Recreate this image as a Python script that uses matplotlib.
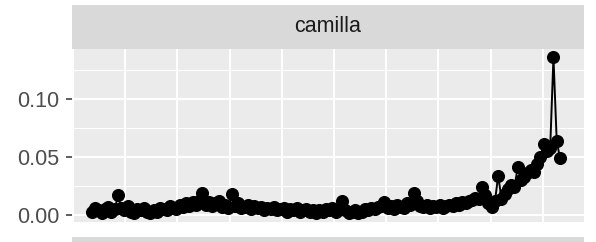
import numpy as np
import matplotlib
matplotlib.use('Agg')
import matplotlib.pyplot as plt

plt.rcParams['font.family'] = ['Liberation Sans', 'DejaVu Sans']

facet = 'camilla'

# one value per week
values = [
    0.003, 0.006, 0.004, 0.002, 0.005, 0.007, 0.003, 0.005, 0.017,
    0.006, 0.004, 0.008, 0.003, 0.002, 0.005, 0.004, 0.006, 0.003,
    0.002, 0.004, 0.003, 0.006, 0.005, 0.004, 0.008, 0.006, 0.005, 0.009,
    0.007, 0.010, 0.008, 0.011, 0.009, 0.012,
    0.019,
    0.009, 0.011, 0.008, 0.010, 0.012, 0.007, 0.009, 0.006,
    0.018,
    0.008, 0.010, 0.006, 0.007, 0.009, 0.005, 0.008, 0.006, 0.007, 0.004,
    0.006, 0.005, 0.007, 0.004, 0.005, 0.006, 0.003, 0.005, 0.004, 0.006,
    0.003, 0.004, 0.005, 0.003, 0.004, 0.002, 0.004, 0.003,
    0.005, 0.004, 0.006, 0.003, 0.005,
    0.012,
    0.004, 0.002, 0.003, 0.004, 0.002, 0.003, 0.005, 0.004, 0.006, 0.005,
    0.007, 0.008,
    0.011,
    0.006, 0.008, 0.005, 0.009, 0.007, 0.006, 0.010, 0.009,
    0.019,
    0.012, 0.008, 0.007, 0.009, 0.006, 0.008, 0.007, 0.009, 0.006, 0.008,
    0.009,
    0.008, 0.010, 0.009, 0.011, 0.010, 0.012, 0.013, 0.015, 0.014, 0.024,
    0.017, 0.010, 0.007, 0.012, 0.034, 0.014, 0.018, 0.022, 0.026, 0.024,
    0.041, 0.030, 0.033, 0.036, 0.039, 0.037, 0.044, 0.050, 0.061, 0.055,
    0.058, 0.136, 0.064, 0.049,
]

y_breaks = [0.00, 0.05, 0.10]
y_labels = ['0.00', '0.05', '0.10']
y_minor = [0.025, 0.075, 0.125]

W, H = 596, 242
fig = plt.figure(figsize=(W / 100, H / 100), dpi=100)

# panel
ax = fig.add_axes([72 / W, 20 / H, 512 / W, 173 / H])
ax.set_facecolor('#EBEBEB')
for s in ax.spines.values():
    s.set_visible(False)

x = np.arange(len(values))
ax.plot(x, values, color='black', linewidth=1.4, zorder=3)
ax.plot(x, values, 'o', color='black', markersize=8.4, zorder=4)

ax.set_xlim(-6.15, 151.4)
ax.set_ylim(-0.006, 0.143)

x_breaks = -5.85 + 16.06 * np.arange(10)
for xb in x_breaks:
    ax.axvline(xb, color='white', linewidth=1.4, zorder=1)
for yb in y_breaks:
    ax.axhline(yb, color='white', linewidth=1.4, zorder=1)
for ym in y_minor:
    ax.axhline(ym, color='white', linewidth=0.7, zorder=1)

ax.set_xticks([])
ax.set_yticks(y_breaks)
ax.set_yticklabels(y_labels)
ax.tick_params(axis='y', length=4.3, width=1.1, color='#333333',
               labelcolor='#4D4D4D', labelsize=15.5, pad=5)

# facet strip
strip = fig.add_axes([72 / W, 193 / H, 512 / W, 44 / H])
strip.set_facecolor('#D9D9D9')
strip.set_xticks([])
strip.set_yticks([])
for s in strip.spines.values():
    s.set_visible(False)
strip.text(0.5, 0.5, facet, ha='center', va='center', fontsize=15.5,
           color='#1A1A1A', transform=strip.transAxes)

# top of next strip, cut off
strip2 = fig.add_axes([72 / W, 0, 512 / W, 5 / H])
strip2.set_facecolor('#D9D9D9')
strip2.set_xticks([])
strip2.set_yticks([])
for s in strip2.spines.values():
    s.set_visible(False)

plt.savefig('out.png', dpi=100)
